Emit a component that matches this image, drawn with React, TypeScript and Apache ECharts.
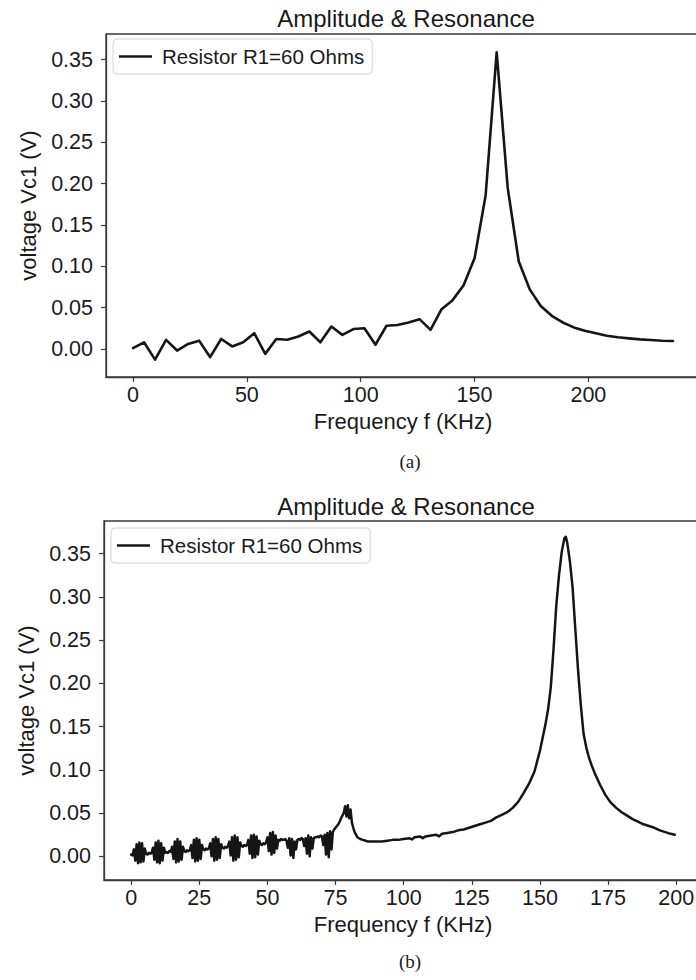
import React, { useEffect, useRef } from "react";
import * as echarts from "echarts";

const chartTitle = "Amplitude & Resonance";
const seriesName = "Resistor R1=60 Ohms";
const xAxisName = "Frequency f (KHz)";
const yAxisName = "voltage Vc1 (V)";
const captionTop = "(a)";
const captionBottom = "(b)";

const topXTicks = [0, 50, 100, 150, 200];
const bottomXTicks = [0, 25, 50, 75, 100, 125, 150, 175, 200];
const yTicks = [0, 0.05, 0.1, 0.15, 0.2, 0.25, 0.3, 0.35];

// (a) coarse sweep
const topFreq = [
  0, 4.84, 9.68, 14.52, 19.36, 24.2, 29.04, 33.88, 38.72, 43.56,
  48.4, 53.24, 58.08, 62.92, 67.76, 72.6, 77.44, 82.28, 87.12, 91.96,
  96.8, 101.64, 106.48, 111.32, 116.16, 121, 125.84, 130.68, 135.52, 140.36,
  145.2, 150.04, 154.88, 159.72, 164.56, 169.4, 174.24, 179.08, 183.92, 188.76,
  193.6, 198.44, 203.28, 208.12, 212.96, 217.8, 222.64, 227.48, 232.32, 237.16,
];
const topVolt = [
  0.001, 0.008, -0.013, 0.011, -0.002, 0.006, 0.010, -0.010, 0.012, 0.003,
  0.008, 0.019, -0.006, 0.012, 0.011, 0.015, 0.021, 0.008, 0.027, 0.017,
  0.024, 0.025, 0.005, 0.028, 0.029, 0.032, 0.036, 0.023, 0.048, 0.059,
  0.077, 0.110, 0.186, 0.359, 0.195, 0.106, 0.072, 0.052, 0.040, 0.032,
  0.026, 0.022, 0.019, 0.016, 0.014, 0.0127, 0.0115, 0.0107, 0.0099, 0.0095,
];

// (b) fine sweep: noisy low-frequency part
const bottomNoise: [number, number][] = [
  [0, 0.002], [0.5, 0.001], [1, 0.008], [1.5, -0.005], [2, 0.014], [2.5, -0.008], [3, 0.016], [3.5, -0.007],
  [4, 0.015], [4.5, -0.006], [5, 0.009], [5.5, 0.003], [6, 0.002], [6.5, 0.004], [7, 0.003], [7.5, 0.004],
  [8, 0.010], [8.5, -0.004], [9, 0.016], [9.5, -0.007], [10, 0.018], [10.5, -0.008], [11, 0.015], [11.5, -0.005],
  [12, 0.010], [12.5, 0.004], [13, 0.005], [13.5, 0.004], [14, 0.006], [14.5, 0.005],
  [15, 0.011], [15.5, -0.003], [16, 0.017], [16.5, -0.007], [17, 0.020], [17.5, -0.006], [18, 0.017], [18.5, -0.004],
  [19, 0.011], [19.5, 0.006], [20, 0.005], [20.5, 0.007], [21, 0.006], [21.5, 0.007],
  [22, 0.013], [22.5, -0.002], [23, 0.019], [23.5, -0.006], [24, 0.021], [24.5, -0.005], [25, 0.019], [25.5, -0.003],
  [26, 0.013], [26.5, 0.008], [27, 0.007], [27.5, 0.009], [28, 0.008], [28.5, 0.009],
  [29, 0.015], [29.5, 0.000], [30, 0.020], [30.5, -0.005], [31, 0.022], [31.5, -0.004], [32, 0.020], [32.5, -0.002],
  [33, 0.014], [33.5, 0.010], [34, 0.009], [34.5, 0.011], [35, 0.010], [35.5, 0.012],
  [36, 0.017], [36.5, 0.001], [37, 0.022], [37.5, -0.005], [38, 0.024], [38.5, -0.004], [39, 0.022], [39.5, -0.001],
  [40, 0.016], [40.5, 0.012], [41, 0.011], [41.5, 0.013], [42, 0.012], [42.5, 0.013],
  [43, 0.019], [43.5, 0.003], [44, 0.024], [44.5, -0.002], [45, 0.025], [45.5, -0.001], [46, 0.023], [46.5, 0.002],
  [47, 0.018], [47.5, 0.014], [48, 0.013], [48.5, 0.015], [49, 0.014], [49.5, 0.016],
  [50, 0.022], [50.5, 0.006], [51, 0.027], [51.5, 0.002], [52, 0.028], [52.5, 0.004], [53, 0.024], [53.5, 0.009],
  [54, 0.019], [54.5, 0.018], [55, 0.020], [55.5, 0.019], [56, 0.019], [56.5, 0.020], [57, 0.018],
  [57.5, 0.010], [58, 0.021], [58.5, 0.001], [59, 0.020], [59.5, -0.002], [60, 0.017], [60.5, 0.008],
  [61, 0.019], [61.5, 0.020], [62, 0.019], [62.5, 0.021], [63, 0.020],
  [63.5, 0.012], [64, 0.021], [64.5, 0.003], [65, 0.024], [65.5, 0.000], [66, 0.022], [66.5, 0.009],
  [67, 0.021], [67.5, 0.022], [68, 0.022], [68.5, 0.023], [69, 0.022], [69.5, 0.024], [70, 0.023],
  [70.5, 0.013], [71, 0.025], [71.5, 0.002], [72, 0.027], [72.5, -0.001], [73, 0.029], [73.5, 0.008],
  [74, 0.028], [74.5, 0.031], [75, 0.033],
];

// (b) fine sweep: bump and resonance
const bottomResonance: [number, number][] = [
  [75.5, 0.035], [76, 0.037], [76.5, 0.040], [77, 0.044], [77.5, 0.047], [78, 0.050], [78.5, 0.058],
  [79, 0.046], [79.5, 0.059], [80, 0.044], [80.5, 0.054], [81, 0.039], [81.5, 0.033], [82, 0.028],
  [82.5, 0.025], [83, 0.022], [84, 0.020], [85, 0.019], [86, 0.018], [87, 0.017], [88, 0.017],
  [90, 0.017], [92, 0.017], [94, 0.018], [96, 0.019], [98, 0.019], [100, 0.020], [102, 0.021],
  [103, 0.0195], [104, 0.022], [106, 0.023], [107, 0.021], [108, 0.023], [110, 0.024], [112, 0.025],
  [113, 0.023], [114, 0.026], [116, 0.027], [118, 0.028], [120, 0.030], [122, 0.031], [124, 0.033],
  [126, 0.035], [128, 0.037], [130, 0.039], [132, 0.041], [134, 0.045], [136, 0.048], [138, 0.051],
  [140, 0.056], [142, 0.063], [144, 0.073], [146, 0.084], [148, 0.098], [150, 0.122], [151, 0.137],
  [152, 0.152], [153, 0.170], [154, 0.196], [155, 0.240], [156, 0.290], [157, 0.325], [158, 0.352],
  [159, 0.368], [159.5, 0.3695], [160, 0.363], [161, 0.341], [162, 0.310], [163, 0.262], [164, 0.215],
  [165, 0.175], [166, 0.142], [167, 0.126], [168, 0.114], [169, 0.105], [170, 0.097], [172, 0.083],
  [174, 0.071], [176, 0.062], [178, 0.056], [180, 0.051], [182, 0.047], [184, 0.043], [186, 0.040],
  [188, 0.037], [190, 0.035], [192, 0.033], [194, 0.030], [196, 0.028], [198, 0.026], [199.5, 0.025],
];

const FONT = "'Liberation Sans', Arial, Helvetica, sans-serif";
const SERIF = "'Liberation Serif', 'Times New Roman', serif";
const AXIS = "#3a3a3a";
const TEXT = "#1a1a1a";
const LINE = "#151515";

function makeX(gridIndex: number, min: number, max: number, ticks: number[]) {
  return {
    type: "value",
    gridIndex,
    min,
    max,
    name: xAxisName,
    nameLocation: "middle",
    nameGap: 33,
    nameTextStyle: { fontFamily: FONT, fontSize: 22, color: TEXT },
    axisLine: { show: true, onZero: false, lineStyle: { color: AXIS, width: 1.3 } },
    axisTick: { show: true, length: 5, customValues: ticks, lineStyle: { color: AXIS, width: 1.2 } },
    axisLabel: {
      customValues: ticks,
      margin: 7,
      fontFamily: FONT,
      fontSize: 21.5,
      color: TEXT,
      formatter: (v: number) => String(v),
    },
    splitLine: { show: false },
  };
}

function makeY(gridIndex: number, min: number, max: number) {
  return {
    type: "value",
    gridIndex,
    min,
    max,
    name: yAxisName,
    nameLocation: "middle",
    nameGap: 67,
    nameTextStyle: { fontFamily: FONT, fontSize: 22, color: TEXT },
    axisLine: { show: true, onZero: false, lineStyle: { color: AXIS, width: 1.3 } },
    axisTick: { show: true, length: 5, customValues: yTicks, lineStyle: { color: AXIS, width: 1.2 } },
    axisLabel: {
      customValues: yTicks,
      margin: 13,
      fontFamily: FONT,
      fontSize: 21.5,
      color: TEXT,
      formatter: (v: number) => v.toFixed(2),
    },
    splitLine: { show: false },
  };
}

function makeLegend(left: number, top: number) {
  return {
    left,
    top,
    data: [seriesName],
    icon: "rect",
    itemWidth: 33,
    itemHeight: 2.6,
    padding: [7, 8, 7, 6],
    borderColor: "#d4d4d4",
    borderWidth: 1,
    borderRadius: 4,
    backgroundColor: "#ffffff",
    selectedMode: false,
    textStyle: { fontFamily: FONT, fontSize: 20.5, color: TEXT, padding: [0, 0, 0, 5] },
  };
}

function caption(text: string, x: number, y: number, font: string) {
  return {
    type: "text",
    x,
    y,
    silent: true,
    style: {
      text,
      font,
      fill: TEXT,
      align: "center",
      verticalAlign: "middle",
      textAlign: "center",
      textVerticalAlign: "middle",
    },
  };
}

export default function App() {
  const ref = useRef<HTMLDivElement>(null);

  useEffect(() => {
    if (!ref.current) return;
    const chart = echarts.init(ref.current, undefined, { renderer: "svg" });
    const topData = topFreq.map((f, i) => [f, topVolt[i]]);
    const bottomData = [...bottomNoise, ...bottomResonance];

    chart.setOption({
      animation: false,
      backgroundColor: "#ffffff",
      grid: [
        {
          left: 106, top: 34, width: 594, height: 343, show: true, borderColor: AXIS, borderWidth: 1.3,
          containLabel: false, outerBoundsMode: "none",
        },
        {
          left: 104, top: 521, width: 598, height: 359, show: true, borderColor: AXIS, borderWidth: 1.3,
          containLabel: false, outerBoundsMode: "none",
        },
      ],
      xAxis: [makeX(0, -11.86, 249.02, topXTicks), makeX(1, -9.975, 209.475, bottomXTicks)],
      yAxis: [makeY(0, -0.034, 0.381), makeY(1, -0.0274, 0.3877)],
      legend: [makeLegend(113, 39), makeLegend(111, 528)],
      series: [
        {
          type: "line",
          name: seriesName,
          xAxisIndex: 0,
          yAxisIndex: 0,
          data: topData,
          symbol: "none",
          showSymbol: false,
          lineStyle: { color: LINE, width: 2.6, join: "round", cap: "round" },
          itemStyle: { color: LINE },
        },
        {
          type: "line",
          name: seriesName,
          xAxisIndex: 1,
          yAxisIndex: 1,
          data: bottomData,
          symbol: "none",
          showSymbol: false,
          lineStyle: { color: LINE, width: 2.5, join: "round", cap: "round" },
          itemStyle: { color: LINE },
        },
      ],
      graphic: [
        caption(chartTitle, 406, 18, `24px ${FONT}`),
        caption(chartTitle, 406, 506, `24px ${FONT}`),
        caption(captionTop, 410, 461, `19px ${SERIF}`),
        caption(captionBottom, 410, 961, `19px ${SERIF}`),
      ],
    });

    return () => chart.dispose();
  }, []);

  return (
    <div
      ref={ref}
      style={{ position: "absolute", left: 0, top: 0, width: 696, height: 980 }}
    />
  );
}
